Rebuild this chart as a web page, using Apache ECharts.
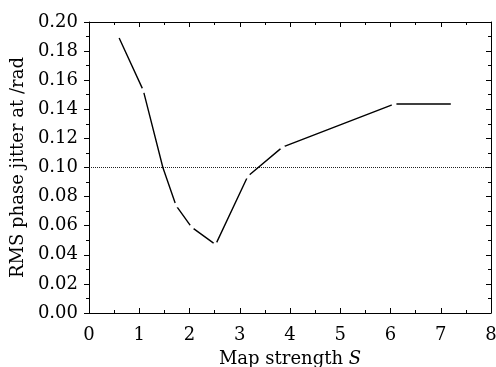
<!DOCTYPE html>
<html>
<head>
<meta charset="utf-8">
<script src="https://cdn.jsdelivr.net/npm/echarts@6/dist/echarts.min.js"></script>
<style>html,body{margin:0;padding:0;background:#fff}#c{width:496px;height:367px}</style>
</head>
<body>
<div id="c"></div>
<script>
// Data
const mapStrength = [0.6, 1.08, 1.47, 1.73, 2.04, 2.52, 3.16, 3.85, 6.07, 7.2];
const rmsJitter   = [0.189, 0.153, 0.100, 0.074, 0.059, 0.047, 0.094, 0.114, 0.1436, 0.1436];
const gapAtPoint  = [false, true, false, true, true, true, true, true, true, false];
const thresholdX  = [0, 8];
const thresholdY  = [0.10, 0.10];
const xTicks = [0, 1, 2, 3, 4, 5, 6, 7, 8];
const yTicks = [0.00, 0.02, 0.04, 0.06, 0.08, 0.10, 0.12, 0.14, 0.16, 0.18, 0.20];

const FONT = 'DejaVu Serif';
const mainData = mapStrength.map((x, i) => [x, rmsJitter[i]]);
const refData = thresholdX.map((x, i) => [x, thresholdY[i]]);

const chart = echarts.init(document.getElementById('c'), null, {renderer: 'canvas'});
const baseAxis = {
  axisLine: {show: true, onZero: false, lineStyle: {color: '#000', width: 1}},
  splitLine: {show: false}
};
chart.setOption({
  animation: false,
  backgroundColor: '#fff',
  grid: {left: 89, top: 22, width: 402, height: 291, containLabel: false, outerBoundsMode: 'none'},
  xAxis: [
    Object.assign({}, baseAxis, {
      type: 'value', position: 'bottom', min: xTicks[0], max: xTicks[xTicks.length - 1], interval: 1,
      axisTick: {show: true, inside: true, length: 5, lineStyle: {color: '#000'}},
      minorTick: {show: true, splitNumber: 2, length: 3, lineStyle: {color: '#000'}},
      axisLabel: {color: '#000', fontFamily: FONT, fontSize: 18, margin: 13},
      name: 'Map strength {i|S}', nameLocation: 'middle', nameGap: 37,
      nameTextStyle: {color: '#000', fontFamily: FONT, fontSize: 18,
        rich: {i: {fontFamily: FONT, fontSize: 18, fontStyle: 'italic', color: '#000'}}}
    }),
    Object.assign({}, baseAxis, {
      type: 'value', position: 'top', min: 0, max: 8, interval: 1,
      axisTick: {show: true, inside: true, length: 5, lineStyle: {color: '#000'}},
      minorTick: {show: true, splitNumber: 2, length: 3, lineStyle: {color: '#000'}},
      axisLabel: {show: false}
    })
  ],
  yAxis: [
    Object.assign({}, baseAxis, {
      type: 'value', position: 'left', min: yTicks[0], max: yTicks[yTicks.length - 1], interval: 0.02,
      axisTick: {show: true, inside: false, length: 5, lineStyle: {color: '#000'}},
      minorTick: {show: true, splitNumber: 2, length: 3, lineStyle: {color: '#000'}},
      axisLabel: {color: '#000', fontFamily: FONT, fontSize: 18, margin: 11,
        formatter: v => v.toFixed(2)},
      name: 'RMS phase jitter at /rad', nameLocation: 'middle', nameGap: 58,
      nameTextStyle: {color: '#000', fontFamily: FONT, fontSize: 18}
    }),
    Object.assign({}, baseAxis, {
      type: 'value', position: 'right', min: 0, max: 0.2, interval: 0.02,
      axisTick: {show: true, inside: true, length: 5, lineStyle: {color: '#000'}},
      minorTick: {show: true, splitNumber: 2, length: 3, lineStyle: {color: '#000'}},
      axisLabel: {show: false}
    })
  ],
  series: [
    {
      type: 'line', xAxisIndex: 0, yAxisIndex: 0, data: refData,
      symbol: 'none', z: 1,
      lineStyle: {color: '#222', width: 1, type: [1, 1]}
    },
    {
      type: 'line', xAxisIndex: 0, yAxisIndex: 0, data: mainData,
      z: 3, showSymbol: true, showAllSymbol: true, symbol: 'circle',
      symbolSize: (v, p) => gapAtPoint[p.dataIndex] ? 5 : 0,
      itemStyle: {color: '#fff', borderWidth: 0},
      lineStyle: {color: '#000', width: 1.4},
      emphasis: {disabled: true}
    }
  ]
});
</script>
</body>
</html>
